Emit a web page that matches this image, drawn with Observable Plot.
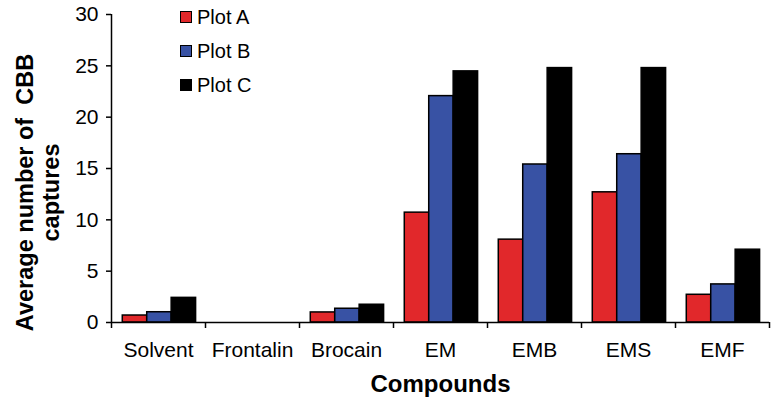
<!DOCTYPE html>
<html>
<head>
<meta charset="utf-8">
<script src="https://cdn.jsdelivr.net/npm/d3@7"></script>
<script src="https://cdn.jsdelivr.net/npm/@observablehq/plot@0.6"></script>
<style>
  html, body { margin: 0; padding: 0; background: #fff; }
  #wrap { position: relative; width: 777px; height: 406px; font-family: "Liberation Sans", Arial, sans-serif; }
  #wrap svg text { white-space: pre; }
  #legend { position: absolute; left: 180px; top: 0px; }
  .item { display: flex; align-items: center; height: 34px; font-size: 20px; color: #000; }
  .sw { width: 10px; height: 10px; border: 1px solid #000; margin-right: 5px; }
</style>
</head>
<body>
<div id="wrap"><div id="legend"></div></div>
<script>
const compounds = ["Solvent", "Frontalin", "Brocain", "EM", "EMB", "EMS", "EMF"];
const series = ["Plot A", "Plot B", "Plot C"];
const plotA = [0.68, 0, 0.98, 10.7, 8.07, 12.68, 2.7];
const plotB = [1.0, 0, 1.34, 22.05, 15.39, 16.39, 3.71];
const plotC = [2.4, 0, 1.73, 24.46, 24.78, 24.78, 7.09];
const colors = ["#E1282B", "#3852A4", "#000000"];
const yTicks = [0, 5, 10, 15, 20, 25, 30];
const yLabel = "Average number of  CBB\ncaptures";
const xLabel = "Compounds";

const valuesBySeries = [plotA, plotB, plotC];
const groupOffset = 0.12, barW = 0.26;
const data = [];
compounds.forEach((c, i) => {
  series.forEach((s, j) => {
    const x1 = i + groupOffset + j * barW;
    data.push({compound: c, series: s, value: valuesBySeries[j][i], x1, x2: x1 + barW});
  });
});
const boundaries = d3.range(compounds.length + 1);
const centers = compounds.map((c, i) => i + 0.5);

const chart = Plot.plot({
  width: 777,
  height: 406,
  marginLeft: 111,
  marginRight: 8,
  marginTop: 14,
  marginBottom: 84,
  style: {fontFamily: "'Liberation Sans', Arial, sans-serif", background: "transparent", color: "#000"},
  x: {domain: [0, compounds.length]},
  y: {domain: [0, 30]},
  color: {domain: series, range: colors},
  marks: [
    Plot.rect(data, {x1: "x1", x2: "x2", y1: 0, y2: "value", fill: "series", stroke: "#000", strokeWidth: 1.5}),
    Plot.ruleX([0], {stroke: "#000", strokeWidth: 1.5}),
    Plot.ruleY([0], {stroke: "#000", strokeWidth: 1.5}),
    Plot.axisY({ticks: yTicks, tickSize: 5, tickPadding: 8, fontSize: 21, label: null, strokeWidth: 1.5}),
    Plot.axisX({ticks: boundaries, tickSize: 6, tickFormat: () => "", label: null, strokeWidth: 1.5}),
    Plot.axisX({ticks: centers, tickSize: 0, tickPadding: 20, fontSize: 21, label: null, tickFormat: (d) => compounds[Math.floor(d)]}),
    Plot.text([yLabel], {frameAnchor: "left", textAnchor: "middle", lineAnchor: "middle", rotate: -90, dx: -73.5, dy: 24, fontSize: 23.5, fontWeight: "bold", lineHeight: 1.07, text: d => d}),
    Plot.text([xLabel], {frameAnchor: "bottom", textAnchor: "middle", lineAnchor: "middle", dy: 62, fontSize: 24, fontWeight: "bold", text: d => d})
  ]
});
const wrap = document.getElementById("wrap");
wrap.insertBefore(chart, wrap.firstChild);

const legend = document.getElementById("legend");
series.forEach((s, j) => {
  const it = document.createElement("div");
  it.className = "item";
  const sw = document.createElement("span");
  sw.className = "sw";
  sw.style.background = colors[j];
  it.appendChild(sw);
  it.appendChild(document.createTextNode(s));
  legend.appendChild(it);
});
</script>
</body>
</html>
